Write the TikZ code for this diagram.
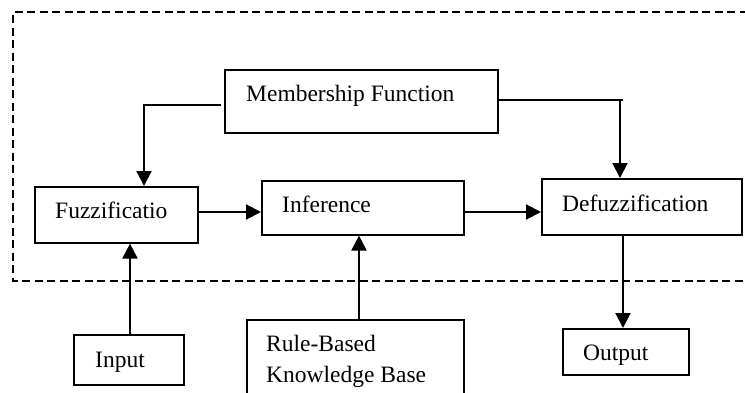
\documentclass[tikz,border=0pt]{standalone}
\usepackage{fontspec}
\setmainfont{Liberation Serif}
\usetikzlibrary{arrows.meta}
\begin{document}
\begin{tikzpicture}[x=1pt,y=-1pt,
  box/.style={draw,line width=1.6pt,inner sep=0pt,anchor=north west},
  lbl/.style={anchor=base west,inner sep=0pt,font=\fontsize{23.5}{28}\selectfont},
  arr/.style={line width=2pt,-{Triangle[length=15pt,width=15pt]}},
  ln/.style={line width=2pt}]
\useasboundingbox (0,0) rectangle (745,392);
\clip (0,0) rectangle (745,392);
\fill[white] (0,0) rectangle (745,392);
% dashed frame
\draw[line width=2.4pt,dash pattern=on 8pt off 4.5pt] (760,12) -- (13,12) -- (13,281) -- (760,281);
% boxes
\node[box,minimum width=273pt,minimum height=63pt] (mf) at (224,69) {};
\node[box,minimum width=163pt,minimum height=56pt] (fz) at (34,186) {};
\node[box,minimum width=202pt,minimum height=54pt] (inf) at (261,180) {};
\node[box,minimum width=200pt,minimum height=56pt] (dfz) at (541,178) {};
\node[box,minimum width=110pt,minimum height=50pt] (inp) at (73,334) {};
\node[box,minimum width=217pt,minimum height=90pt] (rb) at (246,319) {};
\node[box,minimum width=126pt,minimum height=46pt] (outp) at (562,328) {};
% labels
\node[lbl] (tmf) at (246,101.7) {Membership Function};
\node[lbl] (tfz) at (55,218.7) {Fuzzificatio};
\node[lbl] (tinf) at (282,212.7) {Inference};
\node[lbl] (tdfz) at (562,211) {Defuzzification};
\node[lbl] (tinp) at (95,367.7) {Input};
\node[lbl] (trb1) at (266,351) {Rule-Based};
\node[lbl] (trb2) at (266,382.7) {Knowledge Base};
\node[lbl] (tout) at (583,360) {Output};
% connector coordinates
\coordinate (mfL) at (221,105);
\coordinate (mfLc) at (144,105);
\coordinate (mfR) at (497,100);
\coordinate (mfRt) at (623,100);
\coordinate (mfRc) at (620,100);
\coordinate (y212) at (0,212);
\coordinate (xin) at (130,0);
\coordinate (xrb) at (359,0);
\coordinate (xdf) at (623,0);
% connectors
\draw[arr] (mfL) -- (mfLc) -- (fz.north -| mfLc);
\draw[ln] (mfR) -- (mfRt);
\draw[arr] (mfRc) -- (dfz.north -| mfRc);
\draw[arr] (fz.east |- y212) -- (inf.west |- y212);
\draw[arr] (inf.east |- y212) -- (dfz.west |- y212);
\draw[arr] (inp.north -| xin) -- (fz.south -| xin);
\draw[arr] (rb.north -| xrb) -- (inf.south -| xrb);
\draw[arr] (dfz.south -| xdf) -- (outp.north -| xdf);
\end{tikzpicture}
\end{document}
